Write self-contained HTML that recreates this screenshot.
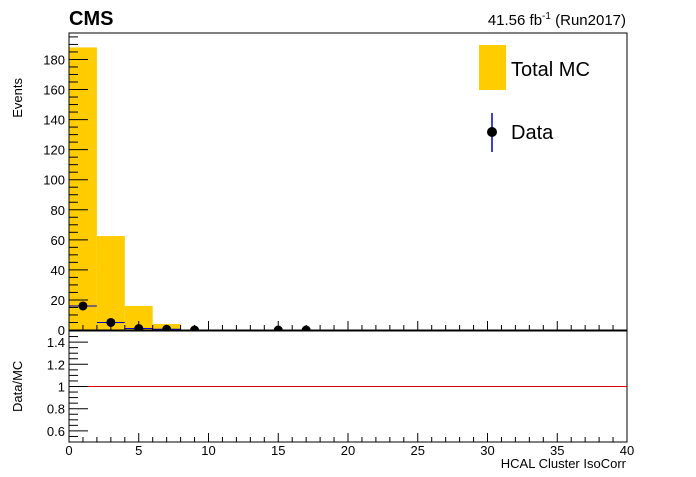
<!DOCTYPE html>
<html><head><meta charset="utf-8"><style>
body{margin:0;background:#fff;font-family:"Liberation Sans",sans-serif}
svg text{font-family:"Liberation Sans",sans-serif}
</style></head><body>
<svg id="c" width="696" height="472" xmlns="http://www.w3.org/2000/svg">
<defs><clipPath id="topClip"><rect x="69" y="33" width="558" height="297"/></clipPath></defs>
<rect width="696" height="472" fill="#fff"/>
<g id="topPanel"></g><g id="botPanel"></g>
<text x="69" y="25" font-size="20" font-weight="bold">CMS</text>
<text x="626" y="25" font-size="15" text-anchor="end">41.56 fb<tspan dy="-6" font-size="10">-1</tspan><tspan dy="6"> (Run2017)</tspan></text>
<text transform="translate(22,78) rotate(-90)" font-size="13" text-anchor="end">Events</text>
<text transform="translate(22,412) rotate(-90)" font-size="13">Data/MC</text>
<text x="626" y="468" font-size="13" text-anchor="end">HCAL Cluster IsoCorr</text>
<rect x="479" y="45" width="27" height="45" fill="#ffcc00"/>
<text x="511" y="76" font-size="20">Total MC</text>
<line x1="492" y1="113" x2="492" y2="152" stroke="#0000cc" stroke-width="1.5"/>
<circle cx="492" cy="132" r="5" fill="#000"/>
<text x="511" y="139" font-size="20">Data</text>
</svg>
<script>
const binEdges=[0,2,4,6,8];
const mcValues=[188,62.5,16,4];
const dataX=[1,3,5,7,9,15,17];
const dataY=[16,5,1,0.5,0,0,0];
const yTicks=[0,20,40,60,80,100,120,140,160,180];
const rTicks=[0.6,0.8,1,1.2,1.4];
const xTicks=[0,5,10,15,20,25,30,35,40];
const NS="http://www.w3.org/2000/svg";
const X0=69,X1=627;
const xs=v=>X0+v/40*(X1-X0);
const T0=33,T1=330,ys=v=>T1-v/197.6*(T1-T0);
const R0=331,R1=442,rs=v=>R1-(v-0.5)*(R1-R0);
function mk(p,t,a){const e=document.createElementNS(NS,t);for(const k in a)e.setAttribute(k,a[k]);p.appendChild(e);return e;}
const topG=document.getElementById('topPanel'),botG=document.getElementById('botPanel');
const dataG=mk(topG,'g',{'clip-path':'url(#topClip)'});
for(let i=0;i<mcValues.length;i++){
 const b=mk(topG,'rect',{x:xs(binEdges[i]),y:ys(mcValues[i]),width:xs(binEdges[i+1])-xs(binEdges[i]),height:T1-ys(mcValues[i]),fill:'#ffcc00'});
 
 
}
topG.appendChild(dataG);
for(let i=0;i<dataX.length;i++){
 mk(dataG,'line',{x1:xs(dataX[i]-1),x2:xs(dataX[i]+1),y1:ys(dataY[i]),y2:ys(dataY[i]),stroke:'#0000cc'});
 const c=mk(dataG,'circle',{cx:xs(dataX[i]),cy:ys(dataY[i]),r:4.5,fill:'#000'});
 
 
}
mk(topG,'rect',{x:X0,y:T0,width:X1-X0,height:T1-T0,fill:'none',stroke:'#000'});
mk(botG,'rect',{x:X0,y:R0,width:X1-X0,height:R1-R0,fill:'none',stroke:'#000'});
mk(botG,'line',{x1:X0,x2:X1,y1:rs(1),y2:rs(1),stroke:'#dd0000'});
for(let v=0;v<=196;v+=5){const big=v%20==0;mk(topG,'line',{x1:X0,x2:X0+(big?19:9),y1:ys(v),y2:ys(v),stroke:'#000'});}
yTicks.forEach(v=>{const t=mk(topG,'text',{x:X0-4,y:ys(v)+5,'font-size':13,'text-anchor':'end'});t.textContent=v;
 });
for(let k=10;k<=30;k++){const v=k*0.05;const big=(k%4==0);mk(botG,'line',{x1:X0,x2:X0+(big?19:9),y1:rs(v),y2:rs(v),stroke:'#000'});}
rTicks.forEach(v=>{const t=mk(botG,'text',{x:X0-4,y:rs(v)+5,'font-size':13,'text-anchor':'end'});t.textContent=v;
 });
for(let v=0;v<=40;v+=1){const big=v%5==0;
 mk(topG,'line',{x1:xs(v),x2:xs(v),y1:T1,y2:T1-(big?9:5),stroke:'#000'});
 mk(botG,'line',{x1:xs(v),x2:xs(v),y1:R1,y2:R1-(big?9:5),stroke:'#000'});}
xTicks.forEach(v=>{const t=mk(botG,'text',{x:xs(v),y:455,'font-size':13,'text-anchor':'middle'});t.textContent=v;
 });
</script>
</body></html>
